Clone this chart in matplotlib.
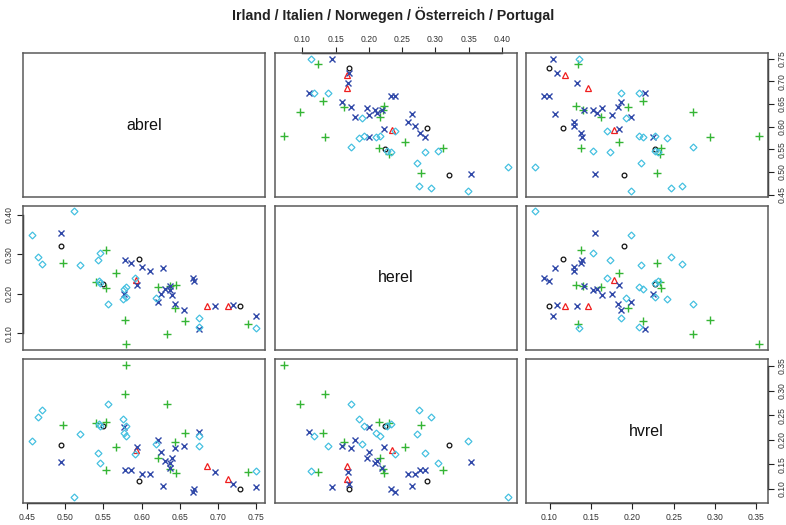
import matplotlib
matplotlib.use("Agg")
import matplotlib.pyplot as plt
import numpy as np

plt.rcParams["font.family"] = ["Liberation Sans", "DejaVu Sans"]

title = "Irland / Italien / Norwegen / Österreich / Portugal"
variables = ["abrel", "herel", "hvrel"]
countries = ["Irland", "Italien", "Norwegen", "Österreich", "Portugal"]

# per-country values of the three ratios
irland_abrel = [0.494, 0.550, 0.597, 0.729]
irland_herel = [0.321, 0.225, 0.288, 0.170]
irland_hvrel = [0.190, 0.227, 0.116, 0.099]

italien_abrel = [0.592, 0.686, 0.713]
italien_herel = [0.235, 0.168, 0.168]
italien_hvrel = [0.178, 0.147, 0.119]

norwegen_abrel = [0.553, 0.739, 0.497, 0.540, 0.553, 0.566, 0.578,
                  0.580, 0.622, 0.637, 0.645, 0.643, 0.633, 0.657]
norwegen_herel = [0.311, 0.123, 0.279, 0.231, 0.216, 0.254, 0.134,
                  0.072, 0.217, 0.221, 0.223, 0.163, 0.097, 0.131]
norwegen_hvrel = [0.138, 0.134, 0.230, 0.234, 0.235, 0.184, 0.294,
                  0.353, 0.162, 0.141, 0.132, 0.195, 0.273, 0.213]

oesterreich_abrel = [0.495, 0.578, 0.586, 0.594, 0.577, 0.601, 0.611, 0.628,
                     0.621, 0.625, 0.630, 0.637, 0.640, 0.643, 0.655, 0.667,
                     0.668, 0.675, 0.696, 0.719, 0.750, 0.637]
oesterreich_herel = [0.354, 0.285, 0.277, 0.223, 0.200, 0.269, 0.259, 0.265,
                     0.180, 0.200, 0.213, 0.210, 0.197, 0.173, 0.159, 0.240,
                     0.233, 0.110, 0.169, 0.171, 0.144, 0.220]
oesterreich_hvrel = [0.155, 0.139, 0.138, 0.184, 0.225, 0.130, 0.130, 0.106,
                     0.199, 0.175, 0.157, 0.153, 0.163, 0.183, 0.187, 0.093,
                     0.099, 0.215, 0.133, 0.109, 0.104, 0.142]

portugal_abrel = [0.457, 0.464, 0.470, 0.511, 0.520, 0.543, 0.546, 0.544, 0.546,
                  0.556, 0.575, 0.577, 0.579, 0.580, 0.591, 0.619, 0.675, 0.675,
                  0.750]
portugal_herel = [0.349, 0.293, 0.275, 0.409, 0.272, 0.285, 0.304, 0.233, 0.228,
                  0.174, 0.186, 0.211, 0.217, 0.193, 0.239, 0.190, 0.138, 0.117,
                  0.113]
portugal_hvrel = [0.198, 0.247, 0.260, 0.082, 0.211, 0.173, 0.153, 0.231, 0.227,
                  0.273, 0.242, 0.213, 0.208, 0.228, 0.170, 0.192, 0.187, 0.208,
                  0.136]

groups = [
    (irland_abrel, irland_herel, irland_hvrel),
    (italien_abrel, italien_herel, italien_hvrel),
    (norwegen_abrel, norwegen_herel, norwegen_hvrel),
    (oesterreich_abrel, oesterreich_herel, oesterreich_hvrel),
    (portugal_abrel, portugal_herel, portugal_hvrel),
]

abrel_ticks = [0.45, 0.50, 0.55, 0.60, 0.65, 0.70, 0.75]
herel_ticks_top = [0.10, 0.15, 0.20, 0.25, 0.30, 0.35, 0.40]
herel_ticks_left = [0.10, 0.20, 0.30, 0.40]
hvrel_ticks = [0.10, 0.15, 0.20, 0.25, 0.30, 0.35]

# plotting symbols per country: open circle, triangle, plus, cross, diamond
styles = [
    dict(marker="o", color="#111111", ms=3.4, mfc="none", mew=0.9),
    dict(marker="^", color="#F01E1E", ms=4.2, mfc="none", mew=0.9),
    dict(marker="+", color="#35B535", ms=5.5, mfc="none", mew=1.0),
    dict(marker="x", color="#3048A8", ms=3.8, mfc="none", mew=1.0),
    dict(marker="D", color="#45C0E0", ms=3.5, mfc="none", mew=0.9),
]

# data ranges padded by 4 % on each side
limits = []
for k in range(3):
    vals = np.concatenate([np.asarray(g[k]) for g in groups])
    lo, hi = vals.min(), vals.max()
    pad = 0.04 * (hi - lo)
    limits.append((lo - pad, hi + pad))

fig = plt.figure(figsize=(7.86, 5.25), dpi=100)

lefts = [23.3 / 786, 274.7 / 786, 525.7 / 786]
width = 242.0 / 786
tops = [53.3, 206.1, 359.3]
height = 143.5 / 525

box_color = "#5a5a5a"
tick_kw = dict(length=4.5, width=0.8, color="#222222", labelsize=6.2,
               labelcolor="#333333", pad=2.5)

axes = {}
for i in range(3):
    for j in range(3):
        bottom = 1 - (tops[i] + 143.5) / 525
        ax = fig.add_axes([lefts[j], bottom, width, height])
        axes[(i, j)] = ax
        ax.set_xlim(limits[j])
        ax.set_ylim(limits[i])
        ax.set_xticks([])
        ax.set_yticks([])
        for sp in ax.spines.values():
            sp.set_color(box_color)
            sp.set_linewidth(1.1)
        if i == j:
            ax.text(0.5, 0.5, variables[i], transform=ax.transAxes,
                    ha="center", va="center", fontsize=11.5, color="#111111")
        else:
            for g, st in zip(groups, styles):
                ax.plot(g[j], g[i], linestyle="none", **st)


def axis_line(ax, ticks, side):
    if side in ("top", "bottom"):
        y = 1 if side == "top" else 0
        ax.plot([ticks[0], ticks[-1]], [y, y], color="#111111", lw=1.0,
                transform=ax.get_xaxis_transform(), clip_on=False)
    else:
        x = 1 if side == "right" else 0
        ax.plot([x, x], [ticks[0], ticks[-1]], color="#111111", lw=1.0,
                transform=ax.get_yaxis_transform(), clip_on=False)


def fmt(ticks):
    return ["%.2f" % t for t in ticks]


# top axis: herel over column 2
ax = axes[(0, 1)]
ax.xaxis.set_ticks_position("top")
ax.set_xticks(herel_ticks_top, fmt(herel_ticks_top))
ax.tick_params(axis="x", direction="out", top=True, bottom=False,
               labeltop=True, labelbottom=False, **tick_kw)
axis_line(ax, herel_ticks_top, "top")

# right axis: abrel beside row 1
ax = axes[(0, 2)]
ax.yaxis.set_ticks_position("right")
ax.set_yticks(abrel_ticks, fmt(abrel_ticks))
ax.tick_params(axis="y", direction="out", right=True, left=False,
               labelright=True, labelleft=False, labelrotation=90, **tick_kw)
for lab in ax.get_yticklabels():
    lab.set_va("center")
axis_line(ax, abrel_ticks, "right")

# left axis: herel beside row 2
ax = axes[(1, 0)]
ax.set_yticks(herel_ticks_left, fmt(herel_ticks_left))
ax.tick_params(axis="y", direction="out", labelrotation=90, **tick_kw)
for lab in ax.get_yticklabels():
    lab.set_va("center")
axis_line(ax, herel_ticks_left, "left")

# bottom axis: abrel under column 1
ax = axes[(2, 0)]
ax.set_xticks(abrel_ticks, fmt(abrel_ticks))
ax.tick_params(axis="x", direction="out", **tick_kw)
axis_line(ax, abrel_ticks, "bottom")

# bottom and right axes: hvrel on the last diagonal panel
ax = axes[(2, 2)]
ax.set_xticks(hvrel_ticks, fmt(hvrel_ticks))
ax.tick_params(axis="x", direction="out", **tick_kw)
axis_line(ax, hvrel_ticks, "bottom")
ax.yaxis.set_ticks_position("right")
ax.set_yticks(hvrel_ticks, fmt(hvrel_ticks))
ax.tick_params(axis="y", direction="out", right=True, left=False,
               labelright=True, labelleft=False, labelrotation=90, **tick_kw)
for lab in ax.get_yticklabels():
    lab.set_va("center")
axis_line(ax, hvrel_ticks, "right")

fig.text(0.5, 1 - 14.5 / 525, title, ha="center", va="center",
         fontsize=10.2, fontweight="bold", color="#222222")

fig.savefig("out.png", dpi=100)
